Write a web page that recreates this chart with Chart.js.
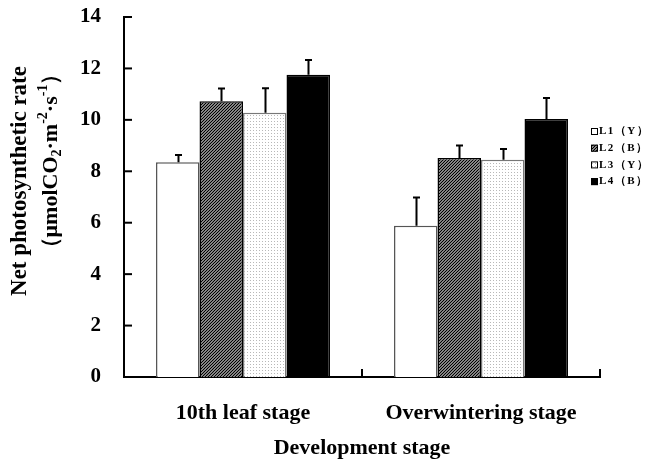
<!DOCTYPE html>
<html>
<head>
<meta charset="utf-8">
<script src="https://cdn.jsdelivr.net/npm/chart.js@4.4.1/dist/chart.umd.min.js"></script>
<style>
html,body{margin:0;padding:0;background:#fff;}
#wrap{width:652px;height:462px;position:relative;}
</style>
</head>
<body>
<div id="wrap"><canvas id="c" width="652" height="462"></canvas></div>
<script>
// ---- data ----
const categories = ['10th leaf stage', 'Overwintering stage'];
const seriesLabels = ['L1（Y）', 'L2（B）', 'L3（Y）', 'L4（B）'];
const L1 = [8.35, 5.88];
const L2 = [10.72, 8.52];
const L3 = [10.28, 8.45];
const L4 = [11.75, 10.03];
const L1err = [0.28, 1.10];
const L2err = [0.50, 0.48];
const L3err = [0.95, 0.42];
const L4err = [0.58, 0.82];
const yMin = 0, yMax = 14, yStep = 2;
const xTitle = 'Development stage';
const yTitle1 = 'Net photosynthetic rate';

// ---- patterns ----
function hatchPattern() {
  const n = 3;
  const c = document.createElement('canvas');
  c.width = n; c.height = n;
  const g = c.getContext('2d');
  g.fillStyle = '#fff'; g.fillRect(0, 0, n, n);
  g.strokeStyle = '#000'; g.lineWidth = 1.4;
  g.beginPath();
  g.moveTo(-1, n + 1); g.lineTo(n + 1, -1);
  g.moveTo(-1, 1); g.lineTo(1, -1);
  g.moveTo(n - 1, n + 1); g.lineTo(n + 1, n - 1);
  g.stroke();
  return g.createPattern(c, 'repeat');
}
function dotPattern() {
  const c = document.createElement('canvas');
  c.width = 3; c.height = 3;
  const g = c.getContext('2d');
  g.fillStyle = '#fff'; g.fillRect(0, 0, 3, 3);
  g.fillStyle = '#b8b8b8'; g.fillRect(1, 1, 1, 1);
  return g.createPattern(c, 'repeat');
}
const fills = ['#ffffff', hatchPattern(), dotPattern(), '#000000'];
const borders = ['#555555', '#000000', '#777777', '#000000'];
const values = [L1, L2, L3, L4];
const errs = [L1err, L2err, L3err, L4err];

const SERIF = "'Liberation Serif', 'Times New Roman', serif";

const customPlugin = {
  id: 'custom',
  afterDatasetsDraw(chart) {
    const ctx = chart.ctx;
    const ys = chart.scales.y;
    ctx.save();
    ctx.strokeStyle = '#000';
    ctx.lineWidth = 2;
    chart.data.datasets.forEach((ds, di) => {
      const meta = chart.getDatasetMeta(di);
      meta.data.forEach((el, i) => {
        const top = ys.getPixelForValue(ds.data[i] + errs[di][i]);
        const x = Math.round(el.x) + 0.5;
        ctx.beginPath();
        ctx.moveTo(x, el.y);
        ctx.lineTo(x, top);
        ctx.moveTo(x - 3.5, top);
        ctx.lineTo(x + 3.5, top);
        ctx.stroke();
      });
    });
    ctx.restore();
  },
  afterDraw(chart) {
    const ctx = chart.ctx;
    const ys = chart.scales.y;
    const ca = chart.chartArea;
    ctx.save();
    ctx.strokeStyle = '#000';
    ctx.lineWidth = 2;
    ys.ticks.forEach((t, i) => {
      const y = ys.getPixelForTick(i);
      ctx.beginPath();
      ctx.moveTo(ca.left, y);
      ctx.lineTo(ca.left + 8, y);
      ctx.stroke();
    });
    for (let i = 0; i <= categories.length; i++) {
      const x = ca.left + (ca.right - ca.left) * i / categories.length;
      ctx.beginPath();
      ctx.moveTo(x, ca.bottom);
      ctx.lineTo(x, ca.bottom - 8);
      ctx.stroke();
    }
    ctx.restore();

    // legend
    ctx.save();
    ctx.font = 'bold 11px ' + SERIF;
    ctx.letterSpacing = '1.5px';
    ctx.textBaseline = 'middle';
    const lx = 591, ly0 = 131.5, ldy = 16.7;
    seriesLabels.forEach((lab, i) => {
      const y = ly0 + i * ldy;
      ctx.fillStyle = fills[i];
      ctx.fillRect(lx, y - 3.5, 7, 7);
      ctx.strokeStyle = '#000';
      ctx.lineWidth = 1;
      ctx.strokeRect(lx + 0.5, y - 3.5 + 0.5, 6, 6);
      ctx.fillStyle = '#000';
      ctx.fillText(lab, lx + 8, y);
    });
    ctx.restore();

    // y title
    ctx.save();
    ctx.fillStyle = '#000';
    ctx.textBaseline = 'middle';
    ctx.translate(20, 181);
    ctx.rotate(-Math.PI / 2);
    ctx.textAlign = 'center';
    ctx.font = 'bold 23px ' + SERIF;
    ctx.fillText(yTitle1, 0, 0);
    ctx.restore();

    ctx.save();
    ctx.fillStyle = '#000';
    ctx.textBaseline = 'middle';
    ctx.translate(51, 161);
    ctx.rotate(-Math.PI / 2);
    ctx.textAlign = 'left';
    const pieces = [
      {t: '（μmolCO', s: 22, dy: 0},
      {t: '2', s: 14, dy: 6},
      {t: '·m', s: 22, dy: 0},
      {t: '-2', s: 14, dy: -8},
      {t: '·s', s: 22, dy: 0},
      {t: '-1', s: 14, dy: -8},
      {t: '）', s: 22, dy: 0}
    ];
    let total = 0;
    pieces.forEach(p => { ctx.font = 'bold ' + p.s + 'px ' + SERIF; p.w = ctx.measureText(p.t).width; total += p.w; });
    let x = -total / 2;
    pieces.forEach(p => {
      ctx.font = 'bold ' + p.s + 'px ' + SERIF;
      ctx.fillText(p.t, x, p.dy);
      x += p.w;
    });
    ctx.restore();
  }
};

new Chart(document.getElementById('c'), {
  type: 'bar',
  data: {
    labels: categories,
    datasets: seriesLabels.map((lab, i) => ({
      label: lab,
      data: values[i],
      backgroundColor: fills[i],
      borderColor: borders[i],
      borderWidth: 1.5,
      borderSkipped: 'bottom',
      categoryPercentage: 0.731,
      barPercentage: 1.0
    }))
  },
  options: {
    responsive: false,
    animation: false,
    devicePixelRatio: 1,
    layout: { padding: { left: 0, right: 52, top: 17, bottom: 0 } },
    plugins: { legend: { display: false }, tooltip: { enabled: false } },
    scales: {
      x: {
        grid: { display: false, drawTicks: false },
        border: { display: true, color: '#000', width: 2 },
        ticks: { color: '#000', font: { family: SERIF, size: 22, weight: 'bold' }, padding: 23 },
        title: { display: true, text: xTitle, color: '#000', font: { family: SERIF, size: 22, weight: 'bold' }, padding: { top: 0, bottom: 0 } },
        afterFit(s) { s.height = 85; s.paddingLeft = 0; s.paddingRight = 0; }
      },
      y: {
        min: yMin, max: yMax,
        grid: { display: false, drawTicks: false },
        border: { display: true, color: '#000', width: 2 },
        ticks: { stepSize: yStep, color: '#000', font: { family: SERIF, size: 21, weight: 'bold' }, padding: 23 },
        afterFit(s) { s.width = 124; s.paddingTop = 0; s.paddingBottom = 0; }
      }
    }
  },
  plugins: [customPlugin]
});
</script>
</body>
</html>
